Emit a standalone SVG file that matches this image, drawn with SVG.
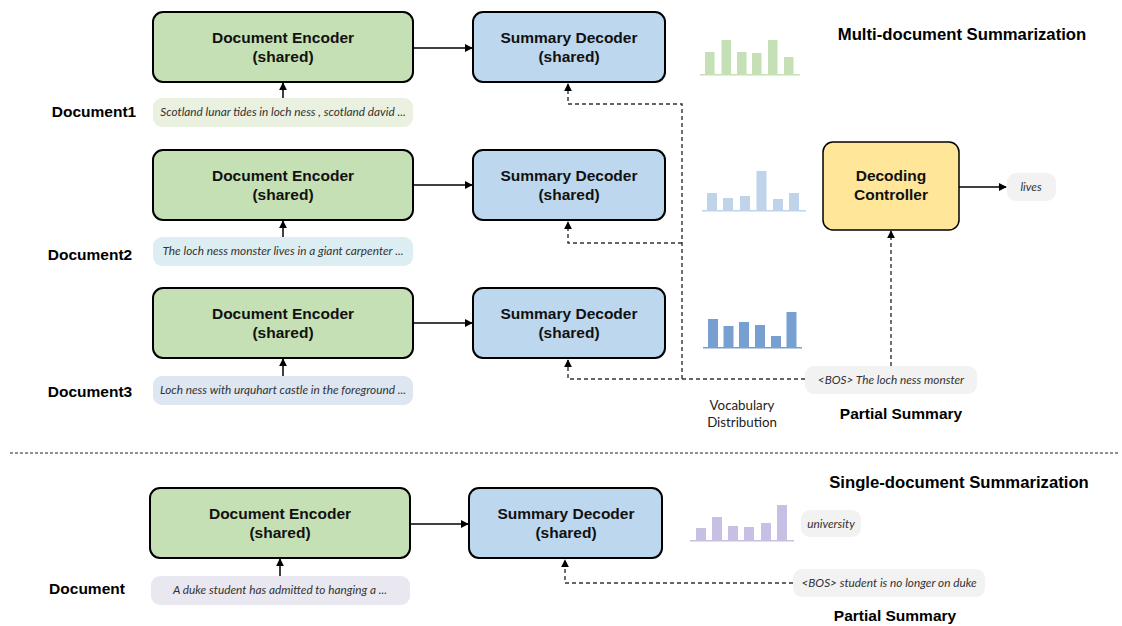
<svg xmlns="http://www.w3.org/2000/svg" width="1122" height="626" viewBox="0 0 1122 626">
<defs>
<style>
.enc{fill:#c5e0b4;stroke:#000;stroke-width:2}
.dec{fill:#bdd7ee;stroke:#000;stroke-width:2}
.ctl{fill:#ffe699;stroke:#000;stroke-width:1.5}
.nt{font-family:"Liberation Sans",Arial,sans-serif;font-weight:bold;font-size:15.5px;fill:#111;text-anchor:middle}
.lb{font-family:"Liberation Sans",Arial,sans-serif;font-weight:bold;font-size:15.5px;fill:#000;text-anchor:middle}
.tt{font-family:"Liberation Sans",Arial,sans-serif;font-weight:bold;font-size:16.7px;fill:#000;text-anchor:middle}
.it{font-family:Lato,"Open Sans",sans-serif;font-style:italic;font-size:11.8px;fill:#333;text-anchor:middle}
.rg{font-family:Lato,"Open Sans",sans-serif;font-size:13.3px;fill:#222;text-anchor:middle}
.solid{stroke:#000;stroke-width:1.5;fill:none}
.dash{stroke:#333;stroke-width:1.4;fill:none;stroke-dasharray:4 3}
.tok{fill:#f2f2f2}
</style>
<marker id="ah" viewBox="0 0 10 10" refX="9" refY="5" markerWidth="8" markerHeight="8" markerUnits="userSpaceOnUse" orient="auto">
<path d="M0,0 L10,5 L0,10 z" fill="#000"/>
</marker>
</defs>

<g id="titles">
<text class="tt" x="962" y="40">Multi-document Summarization</text>
<text class="tt" x="959" y="488">Single-document Summarization</text>
</g>

<g id="separator">
<line x1="10" y1="453" x2="1120" y2="453" stroke="#222" stroke-width="1.2" stroke-dasharray="3 2"/>
</g>

<g id="enc1"><rect class="enc" x="153" y="12" width="260" height="70" rx="10"/><text class="nt" x="283" y="43">Document Encoder</text><text class="nt" x="283" y="62">(shared)</text></g>
<g id="enc2"><rect class="enc" x="153" y="150" width="260" height="70" rx="10"/><text class="nt" x="283" y="181">Document Encoder</text><text class="nt" x="283" y="200">(shared)</text></g>
<g id="enc3"><rect class="enc" x="153" y="288" width="260" height="70" rx="10"/><text class="nt" x="283" y="319">Document Encoder</text><text class="nt" x="283" y="338">(shared)</text></g>
<g id="enc4"><rect class="enc" x="150" y="488" width="260" height="70" rx="10"/><text class="nt" x="280" y="519">Document Encoder</text><text class="nt" x="280" y="538">(shared)</text></g>

<g id="dec1"><rect class="dec" x="473" y="12" width="192" height="70" rx="10"/><text class="nt" x="569" y="43">Summary Decoder</text><text class="nt" x="569" y="62">(shared)</text></g>
<g id="dec2"><rect class="dec" x="473" y="150" width="192" height="70" rx="10"/><text class="nt" x="569" y="181">Summary Decoder</text><text class="nt" x="569" y="200">(shared)</text></g>
<g id="dec3"><rect class="dec" x="473" y="288" width="192" height="70" rx="10"/><text class="nt" x="569" y="319">Summary Decoder</text><text class="nt" x="569" y="338">(shared)</text></g>
<g id="dec4"><rect class="dec" x="469" y="488" width="193" height="70" rx="10"/><text class="nt" x="566" y="519">Summary Decoder</text><text class="nt" x="566" y="538">(shared)</text></g>

<g id="controller"><rect class="ctl" x="823" y="142" width="136" height="88" rx="10"/><text class="nt" x="891" y="181">Decoding</text><text class="nt" x="891" y="200">Controller</text></g>

<g id="doc1"><text class="lb" x="94" y="117">Document1</text><rect x="153" y="98" width="260" height="29" rx="9" fill="#ebf1e0"/><text class="it" x="283" y="116">Scotland lunar tides in loch ness , scotland david ...</text></g>
<g id="doc2"><text class="lb" x="90" y="260">Document2</text><rect x="153" y="237" width="260" height="29" rx="9" fill="#ddeef3"/><text class="it" x="283" y="255">The loch ness monster lives in a giant carpenter ...</text></g>
<g id="doc3"><text class="lb" x="90" y="397">Document3</text><rect x="153" y="376" width="260" height="29" rx="9" fill="#dde6f1"/><text class="it" x="283" y="394">Loch ness with urquhart castle in the foreground ...</text></g>
<g id="doc4"><text class="lb" x="87" y="594">Document</text><rect x="151" y="576" width="259" height="29" rx="9" fill="#e9e7f0"/><text class="it" x="280" y="594">A duke student has admitted to hanging a ...</text></g>

<g id="lives"><rect class="tok" x="1007" y="173" width="49" height="28" rx="9"/><text class="it" x="1031" y="191">lives</text></g>
<g id="bos1"><rect class="tok" x="805" y="366" width="172" height="28" rx="9"/><text class="it" x="891" y="384">&lt;BOS&gt; The loch ness monster</text><text class="lb" x="901" y="419">Partial Summary</text></g>
<g id="university"><rect class="tok" x="801" y="510" width="60" height="27" rx="9"/><text class="it" x="831" y="528">university</text></g>
<g id="bos2"><rect class="tok" x="793" y="569" width="192" height="28" rx="9"/><text class="it" x="889" y="587">&lt;BOS&gt; student is no longer on duke</text><text class="lb" x="895" y="621">Partial Summary</text></g>

<g id="vocab-label"><text class="rg" x="742" y="410">Vocabulary</text><text class="rg" x="742" y="427">Distribution</text></g>

<g id="hist1" fill="#c5e0b4">
<rect x="705" y="52" width="9.5" height="22"/><rect x="721.5" y="40" width="9.5" height="34"/><rect x="737" y="52" width="9.5" height="22"/><rect x="752" y="53" width="9.5" height="21"/><rect x="768" y="40" width="9.5" height="34"/><rect x="784" y="57" width="9.5" height="17"/>
<rect x="700" y="74" width="100" height="1.5"/>
</g>
<g id="hist2" fill="#bfd3eb">
<rect x="707" y="193" width="10" height="17"/><rect x="723" y="198" width="10" height="12"/><rect x="740" y="196" width="10" height="14"/><rect x="756.5" y="171" width="10" height="39"/><rect x="773" y="199" width="10" height="11"/><rect x="789" y="193" width="10" height="17"/>
<rect x="702" y="210" width="104" height="1.5"/>
</g>
<g id="hist3" fill="#779fd1">
<rect x="708" y="319" width="10" height="28"/><rect x="723.5" y="326" width="10" height="21"/><rect x="739" y="322" width="10" height="25"/><rect x="755" y="325" width="10" height="22"/><rect x="771" y="336" width="10" height="11"/><rect x="786.5" y="312" width="10" height="35"/>
<rect x="703" y="347" width="99" height="1.5"/>
</g>
<g id="hist4" fill="#c8c0e4">
<rect x="696" y="528" width="10" height="12"/><rect x="712" y="517" width="10" height="23"/><rect x="728" y="526" width="10" height="14"/><rect x="744" y="527" width="10" height="13"/><rect x="761" y="523" width="10" height="17"/><rect x="777" y="505" width="10" height="35"/>
<rect x="690" y="540" width="104" height="1.5"/>
</g>

<g id="connectors">
<line class="solid" x1="413" y1="48" x2="472" y2="48" marker-end="url(#ah)"/>
<line class="solid" x1="413" y1="185" x2="472" y2="185" marker-end="url(#ah)"/>
<line class="solid" x1="413" y1="323" x2="472" y2="323" marker-end="url(#ah)"/>
<line class="solid" x1="410" y1="524" x2="468" y2="524" marker-end="url(#ah)" stroke-width="1.3"/>
<line class="solid" x1="283" y1="98" x2="283" y2="83" marker-end="url(#ah)"/>
<line class="solid" x1="283" y1="237" x2="283" y2="221" marker-end="url(#ah)"/>
<line class="solid" x1="283" y1="376" x2="283" y2="359" marker-end="url(#ah)"/>
<line class="solid" x1="280" y1="576" x2="280" y2="559" marker-end="url(#ah)"/>
<line class="solid" x1="959" y1="187" x2="1006" y2="187" marker-end="url(#ah)" stroke-width="1.3"/>
<path class="dash" d="M682,379 L682,104 L568,104 L568,84" marker-end="url(#ah)"/>
<path class="dash" d="M682,243 L568,243 L568,222" marker-end="url(#ah)"/>
<path class="dash" d="M805,379 L568,379 L568,360" marker-end="url(#ah)"/>
<path class="dash" d="M891,366 L891,231" marker-end="url(#ah)"/>
<path class="dash" d="M793,583 L565,583 L565,560" marker-end="url(#ah)"/>
</g>
</svg>
